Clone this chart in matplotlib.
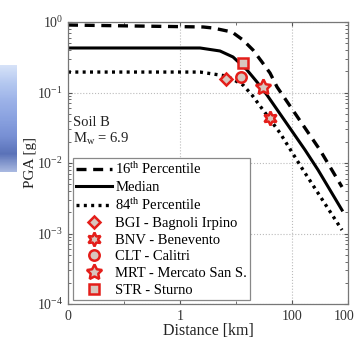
import numpy as np
import matplotlib
matplotlib.use("Agg")
import matplotlib.pyplot as plt
from matplotlib.colors import LinearSegmentedColormap
from matplotlib.ticker import FixedLocator, FixedFormatter, LogLocator, NullFormatter

plt.rcParams.update({
    "font.family": "Liberation Serif",
    "mathtext.fontset": "custom",
    "mathtext.rm": "Liberation Serif",
    "mathtext.it": "Liberation Serif:italic",
    "font.size": 10.5,
})

# curves (distance km, PGA g)
dist_med = [0.01, 2.28, 5.18, 8.84, 15.7, 23.7, 35.8, 171, 291, 781]
pga_med = [0.428, 0.428, 0.388, 0.319, 0.209, 0.141, 0.092, 0.0153, 0.0080, 0.00215]

dist_16 = [0.01, 2.58, 3.88, 8.49, 13.3, 20.1, 29.1, 40.5, 54, 316, 781]
pga_16 = [0.906, 0.85, 0.822, 0.721, 0.556, 0.401, 0.271, 0.189, 0.120, 0.0153, 0.00457]

dist_84 = [0.01, 2.28, 3.88, 6.9, 13.3, 19.3, 61, 157, 781]
pga_84 = [0.195, 0.195, 0.183, 0.171, 0.128, 0.092, 0.0267, 0.0080, 0.00112]

# recorded stations
stations = ["BGI - Bagnoli Irpino", "BNV - Benevento", "CLT - Calitri",
            "MRT - Mercato San S.", "STR - Sturno"]
station_dist = [6.6, 40.5, 12.3, 30.3, 13.3]
station_pga = [0.155, 0.0434, 0.166, 0.120, 0.262]
station_mk = ["D", (6, 1, 0), "o", (5, 1, 0), "s"]
station_ms = [6.5, 10, 7.5, 11.5, 6.5]

xticks = [0.01, 1, 100, 1000]
xticklabels = ["0", "1", "100", "1000"]

fig = plt.figure(figsize=(3.54, 3.39), dpi=100)

# blue decoration strip on the left
axb = fig.add_axes([0, 1 - 172 / 339, 17 / 354, 107 / 339])
cmap = LinearSegmentedColormap.from_list(
    "strip", ["#d6e2f8", "#b4c8f0", "#9cb2e8", "#8aa2e0", "#7890d4", "#5a72b8", "#a8b8e0"])
axb.imshow(np.linspace(0, 1, 100).reshape(-1, 1), aspect="auto", cmap=cmap)
axb.axis("off")

ax = fig.add_axes([68 / 354, 1 - 304 / 339, 280 / 354, 282 / 339])
ax.set_xscale("log")
ax.set_yscale("log")

ax.plot(dist_16, pga_16, color="black", lw=2.4, ls=(0, (3.0, 2.0)), label=r"16$^{\mathrm{th}}$ Percentile")
ax.plot(dist_med, pga_med, color="black", lw=2.2, label="Median")
ax.plot(dist_84, pga_84, color="black", lw=2.4, ls=(0, (0.9, 1.3)), label=r"84$^{\mathrm{th}}$ Percentile")
for d, p, m, s, n in zip(station_dist, station_pga, station_mk, station_ms, stations):
    ax.plot(d, p, ls="none", marker=m, ms=s, mfc="#d8c6be", mec="#e41e1a", mew=1.8, label=n)

ax.set_xlim(0.01, 1000)
ax.set_ylim(1e-4, 1)
ax.xaxis.set_major_locator(FixedLocator(xticks))
ax.xaxis.set_major_formatter(FixedFormatter(xticklabels))
ax.xaxis.set_minor_locator(FixedLocator([0.1, 10]))
ax.xaxis.set_minor_formatter(NullFormatter())
ax.yaxis.set_major_locator(LogLocator(base=10, numticks=10))
ax.yaxis.set_minor_locator(LogLocator(base=10, subs=np.arange(2, 10), numticks=10))
ax.yaxis.set_minor_formatter(NullFormatter())
ax.tick_params(which="both", direction="in", top=True, right=True, colors="#555555",
               labelcolor="#333333", labelsize=10)
ax.tick_params(axis="x", pad=4)
ax.tick_params(which="major", length=3)
ax.tick_params(which="minor", length=2)
ax.grid(True, which="major", ls=":", color="#bbbbbb", lw=0.8)
for sp in ax.spines.values():
    sp.set_color("#777777")
    sp.set_linewidth(0.9)

ax.set_xlabel("Distance [km]", fontsize=11.5, color="#222222", labelpad=0.5)
ax.set_ylabel("PGA [g]", fontsize=11, color="#222222", labelpad=0)

ax.text(0.0125, 10 ** -1.47, "Soil B", fontsize=10.5, va="baseline", color="#222222")
ax.text(0.0125, 10 ** -1.71, r"M$_{\mathrm{w}}$ = 6.9", fontsize=10.5, va="baseline", color="#222222")

leg = ax.legend(loc="lower left", bbox_to_anchor=(0.018, 0.015), fontsize=10.5,
                handlelength=2.5, handletextpad=0.2, labelspacing=0.24, borderpad=0.2,
                borderaxespad=0.0, fancybox=False, framealpha=1, edgecolor="#888888")
leg.get_frame().set_linewidth(0.9)

fig.savefig("out.png", dpi=100)
